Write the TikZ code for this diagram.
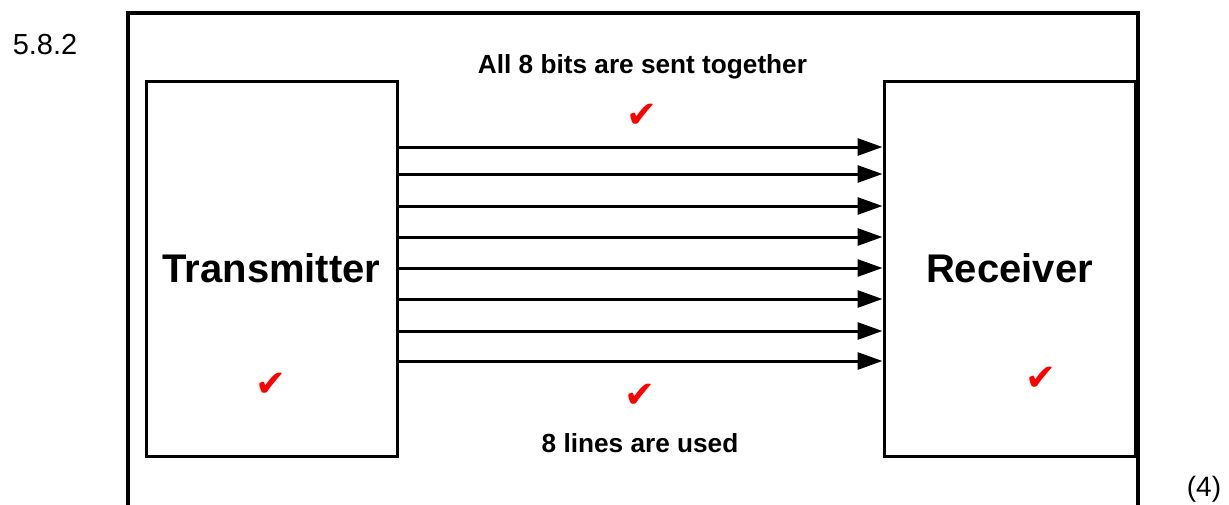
\documentclass[tikz,border=0pt]{standalone}
\usepackage{fontspec}
\setmainfont{Liberation Sans}
\newfontfamily\symfont{DejaVu Sans}
\usetikzlibrary{arrows.meta}
\begin{document}
\begin{tikzpicture}[x=1pt,y=-1pt,
  blockbox/.style={draw,line width=3pt,minimum width=251pt,minimum height=375pt,inner sep=0pt,font=\fontsize{40}{42}\selectfont\bfseries},
  wire/.style={line width=3pt,-{Triangle[length=25pt,width=17pt]}},
  tick/.style={text=red,font=\symfont\fontsize{37}{39}\selectfont,inner sep=0pt},
  lbl/.style={font=\fontsize{26.2}{28}\selectfont\bfseries,inner sep=0pt}]
\useasboundingbox (0,0) rectangle (1229,504);
\draw[line width=3.6pt] (128,512) -- (128,13) -- (1138,13) -- (1138,512);
\node[blockbox] (tx) at (271.5,268.5) {Transmitter};
\node[blockbox] (rx) at (1009.5,268.5) {Receiver};
\foreach \y in {147,174,206,237,268,299,331,361}
  \draw[wire] (tx.east |- 0,\y) -- (rx.west |- 0,\y);
\node[lbl] (top) at (642.5,67) {All 8 bits are sent together};
\node[lbl] (bot) at (640,443) {8 lines are used};
\node[tick] (c1) at (642,116) {✔};
\node[tick] (c2) at (271,385) {✔};
\node[tick] (c3) at (640,396) {✔};
\node[tick] (c4) at (1041,379) {✔};
\node[font=\fontsize{29}{31}\selectfont,inner sep=0pt] (num) at (45,45) {5.8.2};
\node[font=\fontsize{28}{30}\selectfont,inner sep=0pt] (mk) at (1204,489) {(4)};
\end{tikzpicture}
\end{document}
